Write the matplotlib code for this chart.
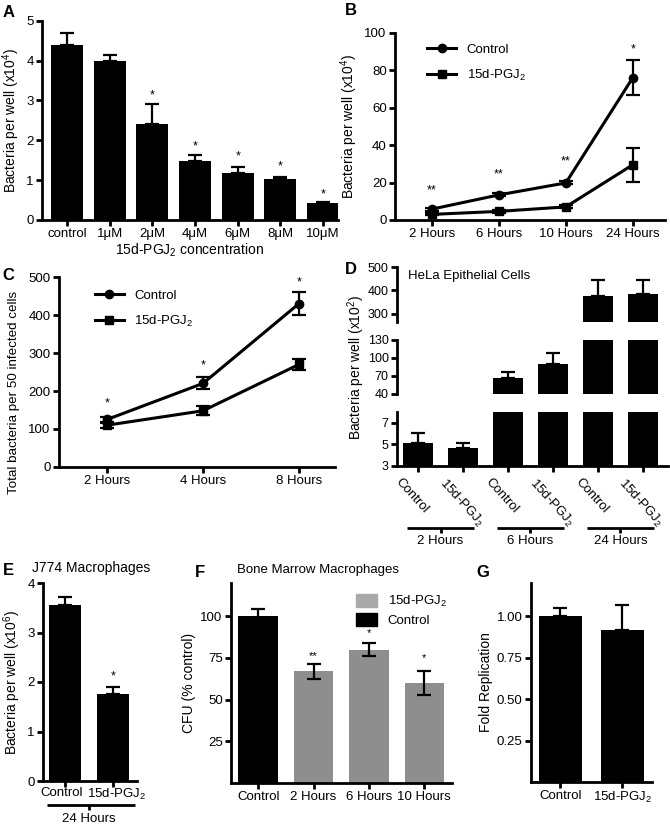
import matplotlib
matplotlib.use("Agg")
import matplotlib.pyplot as plt
import numpy as np
from matplotlib.patches import Patch
from matplotlib.lines import Line2D

plt.rcParams['font.family'] = ['Liberation Sans', 'DejaVu Sans']
plt.rcParams['mathtext.fontset'] = 'custom'
plt.rcParams['mathtext.rm'] = 'Liberation Sans'
plt.rcParams['mathtext.it'] = 'Liberation Sans:italic'
plt.rcParams['mathtext.bf'] = 'Liberation Sans:bold'

PGJ = "15d-PGJ$_2$"

# ---- Panel A data ----
a_cats = ["control", "1\u03bcM", "2\u03bcM", "4\u03bcM", "6\u03bcM", "8\u03bcM", "10\u03bcM"]
a_vals = [4.38, 3.98, 2.42, 1.48, 1.19, 1.03, 0.42]
a_err = [0.32, 0.17, 0.48, 0.14, 0.14, 0.06, 0.02]
a_star = ["", "", "*", "*", "*", "*", "*"]
a_star_y = [0, 0, 3.13, 1.84, 1.59, 1.34, 0.63]

# ---- Panel B data ----
b_cats = ["2 Hours", "6 Hours", "10 Hours", "24 Hours"]
b_ctrl = [5.8, 13.4, 19.8, 76.0]
b_ctrl_err = [0.8, 0.8, 0.8, 9.5]
b_pgj = [3.0, 4.6, 7.0, 29.5]
b_pgj_err = [0.5, 0.6, 0.8, 9.0]
b_star = ["**", "**", "**", "*"]
b_star_y = [15.8, 24.5, 31.0, 91.0]

# ---- Panel C data ----
c_cats = ["2 Hours", "4 Hours", "8 Hours"]
c_ctrl = [125, 220, 430]
c_ctrl_err = [6, 16, 30]
c_pgj = [110, 148, 270]
c_pgj_err = [7, 12, 15]
c_star = ["*", "*", "*"]
c_star_y = [167, 268, 487]

# ---- Panel D data ----
d_labels = ["Control", PGJ, "Control", PGJ, "Control", PGJ]
d_groups = ["2 Hours", "6 Hours", "24 Hours"]
d_vals = [5.15, 4.65, 66, 89.5, 374, 384]
d_err = [0.9, 0.5, 10, 18.5, 70, 62]

# ---- Panel E data ----
e_cats = ["Control", PGJ]
e_vals = [3.55, 1.75]
e_err = [0.17, 0.15]
e_star = ["", "*"]
e_star_y = [0, 2.12]

# ---- Panel F data ----
f_cats = ["Control", "2 Hours", "6 Hours", "10 Hours"]
f_vals = [100.5, 67, 80, 60]
f_err = [3.8, 4.5, 3.8, 7.2]
f_star = ["", "**", "*", "*"]
f_star_y = [0, 76, 90, 75]

# ---- Panel G data ----
g_cats = ["Control", PGJ]
g_vals = [1.0, 0.915]
g_err = [0.05, 0.15]

W, H = 670, 834
fig = plt.figure(figsize=(W / 100, H / 100), dpi=100)

def add_ax(l, t, r, b):
    return fig.add_axes([l / W, 1 - b / H, (r - l) / W, (b - t) / H])

LW = 2.0
TICK = 9.5
LAB = 10

def style(ax, bottom=True):
    for s in ["top", "right"]:
        ax.spines[s].set_visible(False)
    ax.spines["left"].set_linewidth(LW)
    ax.spines["bottom"].set_linewidth(LW)
    if not bottom:
        ax.spines["bottom"].set_visible(False)
    ax.tick_params(width=LW, length=4, labelsize=TICK, direction="out", pad=2)

def plabel(x, y, s):
    fig.text(x / W, 1 - y / H, s, fontsize=12, fontweight="bold", ha="left", va="top")

BLACK = "#000000"
GREY = "#8e8e8e"
GREY_L = "#a9a9ab"

def line_legend(ax, anchor):
    handles = [Line2D([], [], color=BLACK, lw=2.2, marker="o", ms=6, label="Control"),
               Line2D([], [], color=BLACK, lw=2.2, marker="s", ms=6, label=PGJ)]
    ax.legend(handles=handles, loc="upper left", bbox_to_anchor=anchor, frameon=False,
              fontsize=TICK, handlelength=2.2, handletextpad=0.8, labelspacing=0.9,
              borderaxespad=0)

# ================= A =================
ax = add_ax(42, 20.7, 338, 220)
style(ax)
xa = np.arange(len(a_cats))
ax.bar(xa, a_vals, width=0.75, color=BLACK)
ax.errorbar(xa, a_vals, yerr=[np.zeros(len(a_vals)), a_err], fmt="none", ecolor=BLACK,
            elinewidth=1.6, capsize=5, capthick=1.6)
for xi, s, yy in zip(xa, a_star, a_star_y):
    if s:
        ax.text(xi, yy, s, ha="center", va="center", fontsize=9)
ax.set_xlim(-0.59, 6.35)
ax.set_ylim(0, 5)
ax.set_yticks([0, 1, 2, 3, 4, 5])
ax.set_xticks(xa)
ax.set_xticklabels(a_cats)
ax.set_xlabel("15d-PGJ$_2$ concentration", fontsize=LAB, labelpad=1)
ax.set_ylabel("Bacteria per well (x10$^4$)", fontsize=LAB, labelpad=3)
plabel(3, 5, "A")

# ================= B =================
ax = add_ax(395, 32.7, 665, 220)
style(ax)
xb = np.arange(len(b_cats))
ax.errorbar(xb, b_ctrl, yerr=b_ctrl_err, color=BLACK, lw=2.2, marker="o", ms=6,
            capsize=5, capthick=1.6, elinewidth=1.6, clip_on=False)
ax.errorbar(xb, b_pgj, yerr=b_pgj_err, color=BLACK, lw=2.2, marker="s", ms=6,
            capsize=5, capthick=1.6, elinewidth=1.6, clip_on=False)
for xi, s, yy in zip(xb, b_star, b_star_y):
    ax.text(xi, yy, s, ha="center", va="center", fontsize=9)
ax.set_xlim(-0.55, 3.48)
ax.set_ylim(0, 100)
ax.set_yticks([0, 20, 40, 60, 80, 100])
ax.set_xticks(xb)
ax.set_xticklabels(b_cats)
ax.set_ylabel("Bacteria per well (x10$^4$)", fontsize=LAB, labelpad=3)
line_legend(ax, (0.1, 0.97))
plabel(345, 3, "B")

# ================= C =================
ax = add_ax(59, 277, 335, 467)
style(ax)
xc = np.arange(len(c_cats))
ax.errorbar(xc, c_ctrl, yerr=c_ctrl_err, color=BLACK, lw=2.2, marker="o", ms=6,
            capsize=5, capthick=1.6, elinewidth=1.6)
ax.errorbar(xc, c_pgj, yerr=c_pgj_err, color=BLACK, lw=2.2, marker="s", ms=6,
            capsize=5, capthick=1.6, elinewidth=1.6)
for xi, s, yy in zip(xc, c_star, c_star_y):
    ax.text(xi, yy, s, ha="center", va="center", fontsize=9)
ax.set_xlim(-0.5, 2.375)
ax.set_ylim(0, 500)
ax.set_yticks([0, 100, 200, 300, 400, 500])
ax.set_xticks(xc)
ax.set_xticklabels(c_cats)
ax.set_ylabel("Total bacteria per 50 infected cells", fontsize=9.6, labelpad=3)
ax.yaxis.set_label_coords(-0.14, 0.39)
line_legend(ax, (0.11, 0.96))
plabel(2, 268, "C")

# ================= D =================
segs = [(267, 322, 265, 500, [300, 400, 500]),
        (340, 394, 40, 130, [40, 70, 100, 130]),
        (412, 466, 3, 8, [3, 5, 7])]
xd = np.arange(len(d_vals))
d_axes = []
for i, (t, b, lo, hi, ticks) in enumerate(segs):
    ax = add_ax(397, t, 668, b)
    last = i == len(segs) - 1
    style(ax, bottom=last)
    ax.bar(xd, d_vals, width=0.67, color=BLACK)
    ax.errorbar(xd, d_vals, yerr=[np.zeros(len(d_vals)), d_err], fmt="none", ecolor=BLACK,
                elinewidth=1.6, capsize=5, capthick=1.6)
    ax.set_xlim(-0.47, 5.56)
    ax.set_ylim(lo, hi)
    ax.set_yticks(ticks)
    ax.tick_params(axis="y", labelsize=9)
    if not last:
        ax.set_xticks([])
    d_axes.append(ax)
axd = d_axes[-1]
axd.set_xticks(xd)
axd.set_xticklabels([])
tr = axd.get_xaxis_transform()
hpx = 466 - 412  # pixel height of the bottom segment
for xi, lab in zip(xd, d_labels):
    axd.text(xi - 0.36, -10 / hpx, lab, transform=tr, rotation=-48, rotation_mode="anchor",
             ha="left", va="top", fontsize=TICK)
for gi, g in enumerate(d_groups):
    x0, x1 = 2 * gi - 0.24, 2 * gi + 1.24
    yline = -62 / hpx
    axd.plot([x0, x1], [yline, yline], transform=tr, color=BLACK, lw=LW, clip_on=False,
             solid_capstyle="butt")
    axd.plot([2 * gi + 0.5] * 2, [yline, yline - 5 / hpx], transform=tr,
             color=BLACK, lw=LW, clip_on=False, solid_capstyle="butt")
    axd.text(2 * gi + 0.5, yline - 7 / hpx, g, transform=tr,
             ha="center", va="top", fontsize=TICK)
fig.text(356 / W, 1 - 367 / H, "Bacteria per well (x10$^2$)", rotation=90, ha="center",
         va="center", fontsize=LAB)
fig.text(408 / W, 1 - 276 / H, "HeLa Epithelial Cells", ha="left", va="center", fontsize=TICK)
plabel(345, 262, "D")

# ================= E =================
ax = add_ax(43, 583, 137, 781)
style(ax)
xe = np.arange(len(e_cats))
ax.bar(xe, e_vals, width=0.67, color=BLACK)
ax.errorbar(xe, e_vals, yerr=[np.zeros(2), e_err], fmt="none", ecolor=BLACK,
            elinewidth=1.6, capsize=5, capthick=1.6)
for xi, s, yy in zip(xe, e_star, e_star_y):
    if s:
        ax.text(xi, yy, s, ha="center", va="center", fontsize=9)
ax.set_xlim(-0.46, 1.5)
ax.set_ylim(0, 4)
ax.set_yticks([0, 1, 2, 3, 4])
ax.set_xticks(xe)
ax.set_xticklabels([])
tr = ax.get_xaxis_transform()
for xi, lab, dx in zip(xe, e_cats, [-0.08, 0.07]):
    ax.text(xi + dx, -0.03, lab, transform=tr, ha="center", va="top", fontsize=TICK)
ax.set_ylabel("Bacteria per well (x10$^6$)", fontsize=LAB, labelpad=3)
ax.plot([-0.37, 1.45], [-0.12, -0.12], transform=tr, color=BLACK, lw=LW, clip_on=False,
        solid_capstyle="butt")
ax.plot([0.5, 0.5], [-0.12, -0.145], transform=tr, color=BLACK, lw=LW, clip_on=False,
        solid_capstyle="butt")
ax.text(0.5, -0.16, "24 Hours", transform=tr, ha="center", va="top", fontsize=TICK)
fig.text(32 / W, 1 - 568 / H, "J774 Macrophages", ha="left", va="center", fontsize=LAB)
plabel(3, 563, "E")

# ================= F =================
ax = add_ax(231, 583, 452, 783)
style(ax)
xf = np.arange(len(f_cats))
f_cols = [BLACK] + [GREY] * (len(f_cats) - 1)
ax.bar(xf, f_vals, width=0.71, color=f_cols)
ax.errorbar(xf, f_vals, yerr=f_err, fmt="none", ecolor=BLACK,
            elinewidth=1.6, capsize=5, capthick=1.6)
for xi, s, yy in zip(xf, f_star, f_star_y):
    if s:
        ax.text(xi, yy, s, ha="center", va="center", fontsize=8)
ax.set_xlim(-0.49, 3.5)
ax.set_ylim(0, 120)
ax.set_yticks([25, 50, 75, 100])
ax.set_xticks(xf)
ax.set_xticklabels(f_cats)
ax.set_ylabel("CFU (% control)", fontsize=LAB, labelpad=3)
ax.legend(handles=[Patch(color=GREY_L, label=PGJ), Patch(color=BLACK, label="Control")],
          loc="upper right", bbox_to_anchor=(1.0, 0.97), frameon=False, fontsize=TICK,
          handlelength=1.6, handleheight=1.1, labelspacing=0.3, borderaxespad=0)
fig.text(237 / W, 1 - 570 / H, "Bone Marrow Macrophages", ha="left", va="center", fontsize=TICK)
plabel(195, 565, "F")

# ================= G =================
ax = add_ax(531, 583, 652, 782)
style(ax)
xg = np.arange(len(g_cats))
ax.bar(xg, g_vals, width=0.69, color=BLACK)
ax.errorbar(xg, g_vals, yerr=[np.zeros(2), g_err], fmt="none", ecolor=BLACK,
            elinewidth=1.6, capsize=5, capthick=1.6)
ax.set_xlim(-0.47, 1.48)
ax.set_ylim(0, 1.2)
ax.set_yticks([0.25, 0.5, 0.75, 1.0])
ax.set_yticklabels(["0.25", "0.50", "0.75", "1.00"])
ax.set_xticks(xg)
ax.set_xticklabels(g_cats)
ax.set_ylabel("Fold Replication", fontsize=LAB, labelpad=3)
plabel(476, 565, "G")

fig.savefig("out.png", dpi=100)
